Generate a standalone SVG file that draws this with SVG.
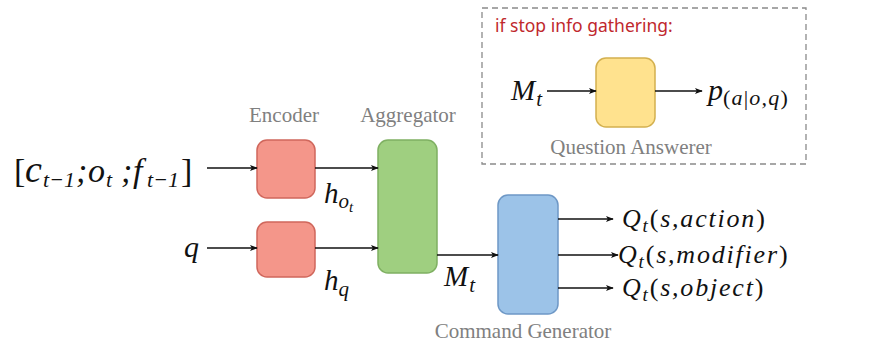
<svg xmlns="http://www.w3.org/2000/svg" width="871" height="345" viewBox="0 0 871 345">
  <style>
    .math { font-family: "Liberation Serif", "DejaVu Serif", serif; font-style: italic; fill: #111; }
    .up { font-style: normal; }
    .lbl { font-family: "Liberation Serif", serif; font-size: 21px; fill: #808080; }
    .wire { stroke: #111; stroke-width: 1.6; fill: none; }
    .enc { fill: #F4968A; stroke: #D0675C; stroke-width: 1.5; }
    .agg { fill: #9FCF80; stroke: #7FB062; stroke-width: 1.5; }
    .gen { fill: #9CC3E8; stroke: #6E98C6; stroke-width: 1.5; }
    .qa { fill: #FFE28E; stroke: #D3B04F; stroke-width: 1.5; }
  </style>
  <defs>
    <marker id="arrow" viewBox="0 0 10 10" refX="9" refY="5" markerWidth="8" markerHeight="8" markerUnits="userSpaceOnUse" orient="auto">
      <path d="M0,1 L10,5 L0,9 L2.5,5 z" fill="#111"/>
    </marker>
  </defs>
  <rect width="871" height="345" fill="#fff"/>

  <!-- optional question-answering branch -->
  <g id="qa-panel">
    <rect x="482" y="8" width="324" height="156" fill="none" stroke="#8a8a8a" stroke-width="1.3" stroke-dasharray="6,4"/>
    <text x="495" y="32" font-family="'Noto Sans', 'Open Sans', sans-serif" font-size="17.5" fill="#C0282D">if stop info gathering:</text>
  </g>
  <g id="question-answerer">
    <rect class="qa" x="596" y="58" width="59" height="69" rx="10"/>
    <text class="lbl" x="631" y="154" text-anchor="middle" font-size="21.5">Question Answerer</text>
  </g>
  <g id="qa-input">
    <text class="math" x="511" y="100" font-size="29" letter-spacing="1">M<tspan font-size="21" dy="6">t</tspan></text>
  </g>
  <g id="qa-output">
    <text class="math" x="708" y="100" font-size="30">p<tspan class="up" font-size="22" dy="5" letter-spacing="1.2">(</tspan><tspan font-size="22" letter-spacing="1.2">a</tspan><tspan class="up" font-size="22" letter-spacing="1.2">|</tspan><tspan font-size="22" letter-spacing="1.2">o,q</tspan><tspan class="up" font-size="22">)</tspan></text>
  </g>

  <!-- encoders -->
  <g id="encoder-obs">
    <text class="lbl" x="284" y="122" text-anchor="middle">Encoder</text>
    <rect class="enc" x="257" y="140" width="58" height="58" rx="10"/>
  </g>
  <g id="encoder-q">
    <rect class="enc" x="257" y="222" width="58" height="55" rx="10"/>
  </g>
  <g id="aggregator">
    <text class="lbl" x="408" y="122" text-anchor="middle">Aggregator</text>
    <rect class="agg" x="378" y="140" width="59" height="133" rx="10"/>
  </g>
  <g id="command-generator">
    <rect class="gen" x="498" y="195" width="60" height="119" rx="10"/>
    <text class="lbl" x="523" y="338" text-anchor="middle" font-size="22">Command Generator</text>
  </g>

  <!-- inputs -->
  <g id="input-obs">
    <text class="math" y="182" font-size="34"><tspan class="up" x="14">[</tspan><tspan x="25" font-size="38">c</tspan><tspan x="43" y="187" font-size="22">t−1</tspan><tspan x="76" y="182">;</tspan><tspan x="88">o</tspan><tspan x="106" y="187" font-size="22">t</tspan><tspan x="121" y="182">;</tspan><tspan x="133">f</tspan><tspan x="147" y="187" font-size="22">t−1</tspan><tspan class="up" x="181" y="182">]</tspan></text>
  </g>
  <g id="input-q">
    <text class="math" x="184" y="257" font-size="30">q</text>
  </g>

  <!-- edge labels -->
  <g id="edge-labels">
    <text class="math" x="324" y="203" font-size="29">h<tspan font-size="21" dy="5">o</tspan><tspan font-size="15" dy="4">t</tspan></text>
    <text class="math" x="324" y="290" font-size="29">h<tspan font-size="21" dy="6">q</tspan></text>
    <text class="math" x="444" y="286" font-size="29" letter-spacing="1">M<tspan font-size="21" dy="6">t</tspan></text>
  </g>

  <!-- outputs -->
  <g id="outputs">
    <text class="math" x="622" y="227" font-size="26" letter-spacing="1.8">Q<tspan font-size="19" dy="5">t</tspan><tspan class="up" dy="-5">(</tspan>s,action<tspan class="up">)</tspan></text>
    <text class="math" x="618" y="263" font-size="26" letter-spacing="1.8">Q<tspan font-size="19" dy="5">t</tspan><tspan class="up" dy="-5">(</tspan>s,modifier<tspan class="up">)</tspan></text>
    <text class="math" x="622" y="296" font-size="26" letter-spacing="1.8">Q<tspan font-size="19" dy="5">t</tspan><tspan class="up" dy="-5">(</tspan>s,object<tspan class="up">)</tspan></text>
  </g>

  <!-- connectors -->
  <g id="connectors">
    <line class="wire" x1="207" y1="168" x2="257" y2="168" marker-end="url(#arrow)"/>
    <line class="wire" x1="207" y1="248" x2="257" y2="248" marker-end="url(#arrow)"/>
    <line class="wire" x1="315" y1="168" x2="378" y2="168" marker-end="url(#arrow)"/>
    <line class="wire" x1="315" y1="248" x2="378" y2="248" marker-end="url(#arrow)"/>
    <line class="wire" x1="437" y1="255" x2="498" y2="255" marker-end="url(#arrow)"/>
    <line class="wire" x1="558" y1="219" x2="613" y2="219" marker-end="url(#arrow)"/>
    <line class="wire" x1="558" y1="255" x2="618" y2="255" marker-end="url(#arrow)"/>
    <line class="wire" x1="558" y1="288" x2="613" y2="288" marker-end="url(#arrow)"/>
    <line class="wire" x1="547" y1="91" x2="596" y2="91" marker-end="url(#arrow)"/>
    <line class="wire" x1="655" y1="91" x2="702" y2="91" marker-end="url(#arrow)"/>
  </g>
</svg>
